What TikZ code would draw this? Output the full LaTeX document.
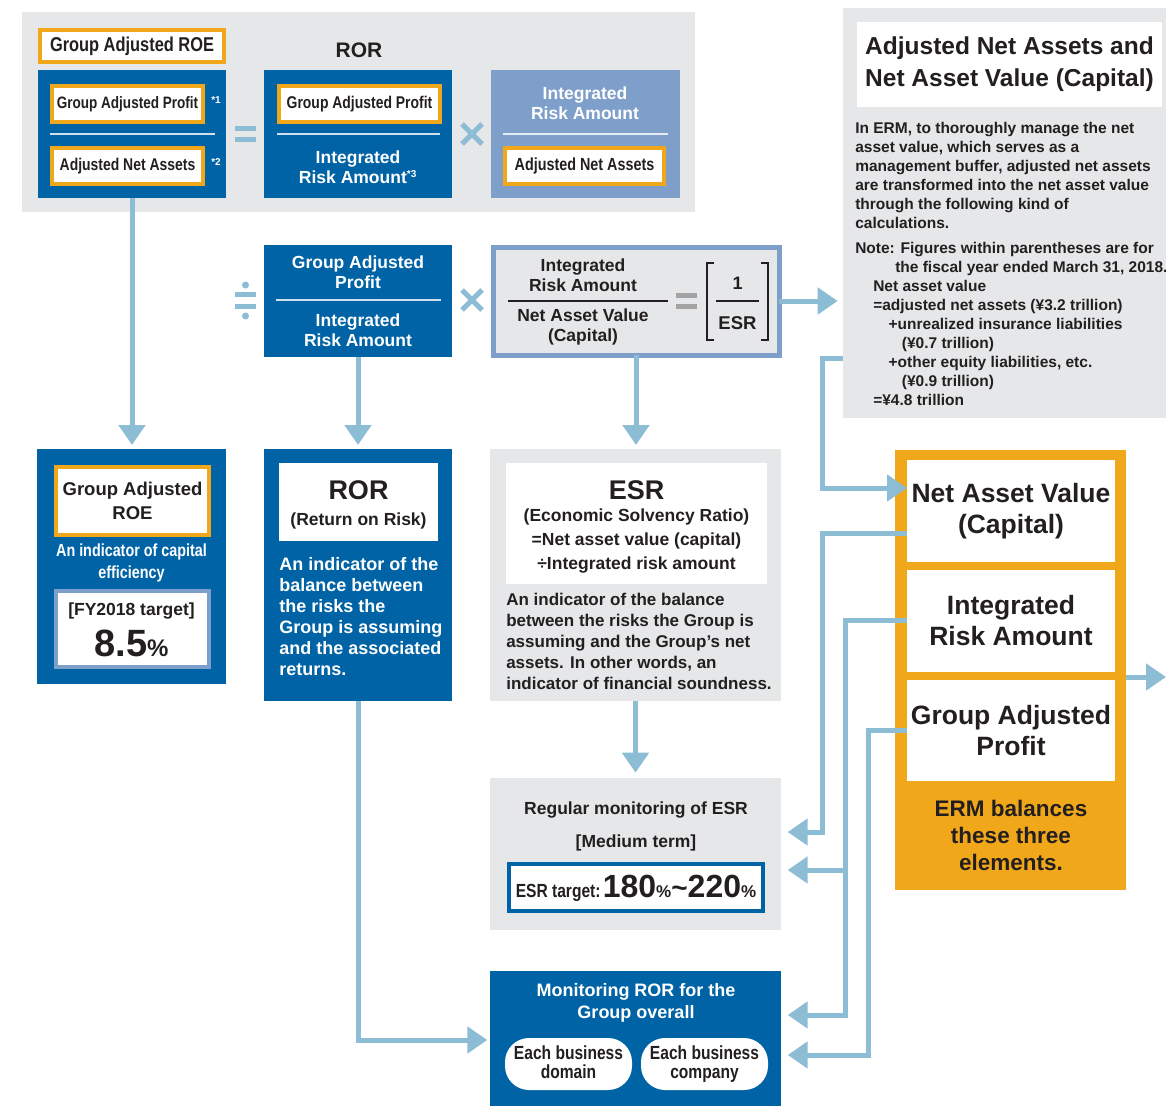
\documentclass[tikz,border=0pt]{standalone}
\usepackage{fontspec}
\setmainfont{Liberation Sans}
\newfontfamily\cnd{Liberation Sans}[FakeStretch=0.82]
\usetikzlibrary{arrows.meta,calc}
\definecolor{dblue}{HTML}{0063A6}
\definecolor{lblue}{HTML}{8DBDD5}
\definecolor{lav}{HTML}{7F9FCB}
\definecolor{orng}{HTML}{F0A81A}
\definecolor{gry}{HTML}{E6E7E8}
\definecolor{txt}{HTML}{231F20}
\definecolor{geq}{HTML}{A3A3A3}
\newcommand\fz[2]{\fontsize{\fpeval{#1*0.75}}{\fpeval{#2*0.75}}\selectfont}
% box from pixel corners: style, name, x1, y1, x2, y2, text
\newcommand\bx[7]{\node[#1, minimum width=\fpeval{(#5-#3)*0.75}pt, minimum height=\fpeval{(#6-#4)*0.75}pt] (#2) at ({(#3+#5)/2},{(#4+#6)/2}) {#7};}
\tikzset{
 rbox/.style={inner sep=0pt, outer sep=0pt, align=center},
 panel/.style={rbox, fill=gry},
 dbox/.style={rbox, fill=dblue, text=white},
 obox/.style={rbox, fill=white, draw=orng, line width=3pt, text=txt},
 conn/.style={draw=lblue, line width=3.75pt, -{Triangle[width=19.5pt,length=15pt]}},
 cline/.style={draw=lblue, line width=3.75pt},
 divl/.style={draw=white!80!dblue, line width=1pt},
 wt/.style={text=white, align=center, inner sep=0pt},
 dt/.style={text=txt, align=center, inner sep=0pt},
 geqs/.style={draw=geq, line width=3.75pt},
}
\begin{document}
\begin{tikzpicture}[x=0.75pt,y=-0.75pt]
\useasboundingbox (0,0) rectangle (1166,1106);

% ---------- top panel ----------
\bx{panel}{toppanel}{22}{12}{695}{212}{}
\bx{obox, font=\cnd\bfseries\fz{20}{20}}{roeT}{40}{30}{224}{62}{Group Adjusted ROE}
\node[dt, font=\bfseries\fz{21}{21}] (rorT) at (359,50) {ROR};

\bx{dbox}{roeF}{38}{70}{226}{198}{}
\bx{obox, font=\cnd\bfseries\fz{16.5}{16.5}}{gap1}{52}{86}{203}{122}{Group Adjusted Profit}
\node[wt, font=\bfseries\fz{10}{10}] (n1) at (216,100) {*1};
\draw[divl] (50,134) -- (215,134);
\bx{obox, font=\cnd\bfseries\fz{17}{17}}{ana1}{52}{148}{203}{184}{Adjusted Net Assets}
\node[wt, font=\bfseries\fz{10}{10}] (n2) at (216,162) {*2};

\draw[cline] (235,128.5) -- (256,128.5) (235,139.5) -- (256,139.5);

\bx{dbox}{rorF}{264}{70}{452}{198}{}
\bx{obox, font=\cnd\bfseries\fz{17}{17}}{gap2}{279}{86}{440}{122}{Group Adjusted Profit}
\draw[divl] (277,134) -- (440,134);
\node[wt, font=\bfseries\fz{17.5}{20.5}] (ira2) at (358,167) {Integrated\\Risk Amount\textsuperscript{\fz{10}{10}*3}};

\draw[cline] (462,124) -- (482,144) (462,144) -- (482,124);

\bx{rbox, fill=lav}{lavF}{491}{70}{680}{198}{}
\node[wt, font=\bfseries\fz{17.5}{20.5}] (ira3) at (585,103) {Integrated\\Risk Amount};
\draw[draw=white!80!lav, line width=1pt] (503,134) -- (668,134);
\bx{obox, font=\cnd\bfseries\fz{17.5}{17.5}}{ana3}{505}{148}{664}{184}{Adjusted Net Assets}

% ---------- second row ----------
\draw[cline] (235,294) -- (256,294) (235,306) -- (256,306);
\fill[lblue] (245.5,285) circle (3.5) (245.5,316) circle (3.5);

\bx{dbox}{rorR}{264}{245}{452}{357}{}
\node[wt, font=\bfseries\fz{17.5}{20.5}] (gapR) at (358,272) {Group Adjusted\\Profit};
\draw[divl] (276,300) -- (441,300);
\node[wt, font=\bfseries\fz{17.5}{20.5}] (iraR) at (358,330) {Integrated\\Risk Amount};

\draw[cline] (462,290) -- (482,310) (462,310) -- (482,290);

\bx{rbox, fill=gry, draw=lav, line width=3.75pt}{frm}{493}{247}{779}{355}{}
\node[dt, font=\bfseries\fz{17.5}{20.5}] (fnum) at (583,275) {Integrated\\Risk Amount};
\draw[txt, line width=0.8pt] (508,301) -- (668,301);
\node[dt, font=\bfseries\fz{17.5}{20.5}] (fden) at (583,327) {Net Asset Value\\(Capital)};
\draw[geqs] (676,295) -- (697,295) (676,306) -- (697,306);
\draw[txt, line width=0.8pt] (714,263) -| (707,340) -- (714,340);
\draw[txt, line width=0.8pt] (761,263) -| (768,340) -- (761,340);
\node[dt, font=\bfseries\fz{18}{18}] (one) at (737.5,283) {1};
\draw[txt, line width=0.8pt] (716,301) -- (759,301);
\node[dt, font=\bfseries\fz{18.5}{18.5}] (esrF) at (737.5,323) {ESR};

% ---------- right panel ----------
\bx{panel}{rp}{843}{8}{1166}{418}{}
\bx{rbox, fill=white, text=txt, font=\bfseries\fz{24.5}{32}}{rpt}{857}{22}{1162}{107}{Adjusted Net Assets and\\Net Asset Value (Capital)}
\node[anchor=north west, inner sep=0pt, align=left, text=txt, font=\bfseries\fz{15.5}{19}] (rpb) at (855,122) {In ERM, to thoroughly manage the net\\
asset value, which serves as a\\
management buffer, adjusted net assets\\
are transformed into the net asset value\\
through the following kind of\\
calculations.\\[4.5pt]
Note: Figures within parentheses are for\\
\hspace*{30pt}the fiscal year ended March 31, 2018.\\
\hspace*{13.5pt}Net asset value\\
\hspace*{13.5pt}=adjusted net assets (¥3.2 trillion)\\
\hspace*{25pt}+unrealized insurance liabilities\\
\hspace*{35pt}(¥0.7 trillion)\\
\hspace*{25pt}+other equity liabilities, etc.\\
\hspace*{35pt}(¥0.9 trillion)\\
\hspace*{13.5pt}=¥4.8 trillion};

% ---------- third row ----------
\bx{dbox}{roeB}{37}{449}{226}{684}{}
\bx{obox, font=\bfseries\fz{18.5}{24}}{roeI}{56}{467}{209}{535}{Group Adjusted\\ROE}
\node[wt, font=\cnd\bfseries\fz{17.5}{22}] (capE) at (131.5,563) {An indicator of capital\\efficiency};
\bx{rbox, fill=white, draw=lav, line width=3pt}{tgt}{56}{591}{209}{667}{}
\node[dt, font=\bfseries\fz{17.5}{17.5}] (tgt1) at (131.5,611) {[FY2018 target]};
\node[dt, font=\bfseries] (tgt2) at (131.5,643) {\fz{38}{38}8.5\fz{24}{24}\%};

\bx{dbox}{rorB}{264}{449}{452}{701}{}
\bx{rbox, fill=white}{rorW}{279}{463}{438}{541}{}
\node[dt, font=\bfseries\fz{27}{27}] (rorBig) at (358.5,490) {ROR};
\node[dt, font=\bfseries\fz{17.5}{17.5}] (rorSub) at (358.5,521) {(Return on Risk)};
\node[anchor=north west, inner sep=0pt, align=left, text=white, font=\bfseries\fz{18}{21}] (rorTxt) at (279,557) {An indicator of the\\balance between\\the risks the\\Group is assuming\\and the associated\\returns.};

\bx{panel}{esrB}{490}{449}{781}{701}{}
\bx{rbox, fill=white}{esrW}{506}{463}{767}{584}{}
\node[dt, font=\bfseries\fz{27}{27}] (esrBig) at (636.5,490) {ESR};
\node[dt, font=\bfseries\fz{17.5}{24}] (esrSub) at (636.5,541) {(Economic Solvency Ratio)\\=Net asset value (capital)\\÷Integrated risk amount};
\node[anchor=north west, inner sep=0pt, align=left, text=txt, font=\bfseries\fz{17}{21}] (esrTxt) at (506,593) {An indicator of the balance\\between the risks the Group is\\assuming and the Group’s net\\assets. In other words, an\\indicator of financial soundness.};

% ---------- orange block ----------
\bx{rbox, fill=orng}{erm}{895}{450}{1126}{890}{}
\bx{rbox, fill=white, text=txt, font=\bfseries\fz{26.5}{31}}{nav}{907}{460}{1115}{562}{Net Asset Value\\(Capital)}
\bx{rbox, fill=white, text=txt, font=\bfseries\fz{26.5}{31}}{ira}{907}{570}{1115}{672}{Integrated\\Risk Amount}
\bx{rbox, fill=white, text=txt, font=\bfseries\fz{26.5}{31}}{gapO}{907}{680}{1115}{781}{Group Adjusted\\Profit}
\node[dt, font=\bfseries\fz{22.5}{27}] (ermT) at (1011,835) {ERM balances\\these three\\elements.};
\coordinate (outR) at (1166,677);

% ---------- bottom ----------
\bx{panel}{esrM}{490}{778}{781}{930}{}
\node[dt, font=\bfseries\fz{17.5}{17.5}] (esrM1) at (636,810) {Regular monitoring of ESR};
\node[dt, font=\bfseries\fz{17.5}{17.5}] (esrM2) at (636,843) {[Medium term]};
\bx{rbox, fill=white, draw=dblue, line width=3pt}{esrT}{509}{864}{763}{911}{}
\node[dt, font=\bfseries] (esrTT) at (636,888) {{\cnd\fz{19}{19}ESR target:}\,\fz{32}{32}180\fz{17}{17}\%\fz{28}{28}\textasciitilde\fz{32}{32}220\fz{17}{17}\%};

\bx{dbox}{rorM}{490}{971}{781}{1106}{}
\node[wt, font=\bfseries\fz{18}{22}] (rorM1) at (636,1003) {Monitoring ROR for the\\Group overall};
\bx{rbox, fill=white, text=txt, rounded corners=18pt, font=\cnd\bfseries\fz{19}{19}}{dom}{505}{1038}{632}{1090}{Each business\\domain\vphantom{y}}
\bx{rbox, fill=white, text=txt, rounded corners=18pt, font=\cnd\bfseries\fz{19}{19}}{com}{641}{1038}{768}{1090}{Each business\\company}

% ---------- connectors ----------
\draw[conn, shorten >=3pt] (roeF.south) -- (roeF.south |- roeB.north);
\draw[conn, shorten >=3pt] (rorR.south) -- (rorR.south |- rorB.north);
\draw[conn, shorten >=3pt] (frm.south) -- (frm.south |- esrB.north);
\draw[conn, shorten >=4pt] (esrB.south) -- (esrB.south |- esrM.north);
\draw[conn, shorten >=4pt] (frm.east) -- (rp.west |- frm.east);
\draw[conn] (erm.east |- outR) -- (outR);
\draw[conn, shorten >=2pt] (rorB.south) |- (rorM.west |- 0,1040);

\draw[conn] (rp.west |- 0,358) -| (822,488) -- (nav.west |- 0,488);
\draw[conn, shorten >=5pt] (nav.west |- 0,533) -| (822,832) -- (esrM.east |- 0,832);
\draw[conn, shorten >=5pt] (ira.west |- 0,620) -| (845,1015) -- (rorM.east |- 0,1015);
\draw[conn, shorten >=5pt] (845,870) -- (esrM.east |- 0,870);
\draw[conn, shorten >=5pt] (gapO.west |- 0,730) -| (868,1055) -- (rorM.east |- 0,1055);
\end{tikzpicture}
\end{document}
